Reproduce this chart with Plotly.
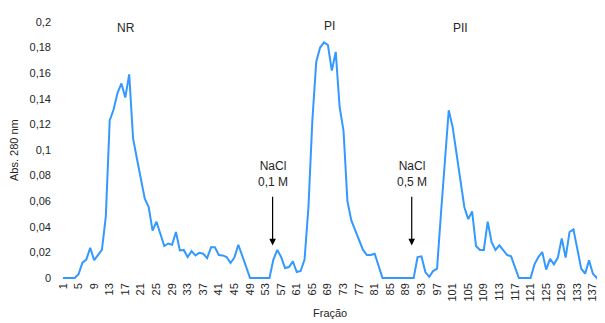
import plotly.graph_objects as go

fractions = list(range(1, 141))
absorbance = [
    0, 0, 0, 0, 0.003, 0.012, 0.0144, 0.0237, 0.014, 0.018,          # 1-10
    0.022, 0.048, 0.123, 0.1316, 0.1445, 0.152, 0.141, 0.159, 0.109, 0.093,  # 11-20
    0.078, 0.062, 0.0555, 0.037, 0.044, 0.035, 0.025, 0.027, 0.026, 0.036,  # 21-30
    0.0216, 0.022, 0.0164, 0.021, 0.0177, 0.0197, 0.019, 0.0156, 0.024, 0.024,  # 31-40
    0.018, 0.0177, 0.0164, 0.0117, 0.016, 0.026, 0.018, 0.009, 0, 0,  # 41-50
    0, 0, 0, 0, 0.0144, 0.022, 0.0164, 0.0078, 0.0086, 0.013,  # 51-60
    0.0047, 0.0055, 0.0144, 0.0555, 0.123, 0.169, 0.180, 0.184, 0.182, 0.162,  # 61-70
    0.1766, 0.1336, 0.115, 0.060, 0.045, 0.037, 0.029, 0.022, 0.018, 0.018,  # 71-80
    0.019, 0.0086, 0, 0, 0, 0, 0, 0, 0, 0,  # 81-90
    0, 0.0164, 0.017, 0.0047, 0.001, 0.0055, 0.0073, 0.05, 0.09, 0.131,  # 91-100
    0.118, 0.097, 0.076, 0.0555, 0.046, 0.052, 0.025, 0.022, 0.022, 0.044,  # 101-110
    0.028, 0.022, 0.0255, 0.022, 0.018, 0.017, 0.0086, 0, 0, 0,  # 111-120
    0, 0.0107, 0.0164, 0.0203, 0.0066, 0.015, 0.0107, 0.016, 0.031, 0.016,  # 121-130
    0.036, 0.038, 0.022, 0.0073, 0.0034, 0.0138, 0.0034, 0, 0.007, 0.001,  # 131-140
]

x_tick_vals = list(range(1, 138, 4))
y_tick_vals = [0, 0.02, 0.04, 0.06, 0.08, 0.1, 0.12, 0.14, 0.16, 0.18, 0.2]
y_tick_text = ["0", "0,02", "0,04", "0,06", "0,08", "0,1", "0,12", "0,14", "0,16", "0,18", "0,2"]

peak_labels = ["NR", "PI", "PII"]
peak_x = [17.1, 69.5, 102.9]
peak_y = [0.195, 0.197, 0.195]

salt_labels = ["NaCl<br>0,1 M", "NaCl<br>0,5 M"]
salt_x = [54.8, 90.5]

FONT = "Liberation Sans, Arial, sans-serif"
TXT = "#262626"
# page body has an 8px default margin, so the figure is 8px smaller each way
OFF = 8
W, H = 605 - OFF, 323 - OFF
ML, MR, MT, MB = 53, 0, 12, 43

fig = go.Figure()
fig.add_trace(go.Scatter(
    x=fractions, y=absorbance, mode="lines",
    line=dict(color="#3399FF", width=2), showlegend=False,
))

annotations = []
for t, xv, yv in zip(peak_labels, peak_x, peak_y):
    annotations.append(dict(x=xv, y=yv, xref="x", yref="y", text=t, showarrow=False,
                            font=dict(family=FONT, size=12, color=TXT)))
for t, xv in zip(salt_labels, salt_x):
    annotations.append(dict(x=xv, y=0.0816, xref="x", yref="y", text=t, showarrow=False,
                            font=dict(family=FONT, size=12, color=TXT)))
    annotations.append(dict(x=xv, y=0.0255, xref="x", yref="y", ax=xv, ay=0.0646,
                            axref="x", ayref="y", text="", showarrow=True,
                            arrowhead=2, arrowsize=1.1, arrowwidth=1.2, arrowcolor="#000"))
pw = W - ML - MR
ph = H - MT - MB
annotations.append(dict(x=(14 - OFF - ML) / pw, y=(H - MB - (150 - OFF)) / ph,
                        xref="paper", yref="paper",
                        text="Abs. 280 nm", textangle=-90, showarrow=False,
                        xanchor="center", yanchor="middle",
                        font=dict(family=FONT, size=11, color=TXT)))
annotations.append(dict(x=(330 - OFF - ML) / pw, y=-((313 - OFF) - (H - MB)) / ph,
                        xref="paper", yref="paper",
                        text="Fração", showarrow=False, xanchor="center", yanchor="middle",
                        font=dict(family=FONT, size=11, color=TXT)))

fig.update_layout(
    width=W, height=H,
    margin=dict(l=ML, r=MR, t=MT, b=MB, autoexpand=False),
    paper_bgcolor="white", plot_bgcolor="white",
    font=dict(family=FONT, size=11, color=TXT),
    annotations=annotations,
    xaxis=dict(range=[0.5, 140.1], tickmode="array", tickvals=x_tick_vals,
               tickangle=-90, showgrid=False, zeroline=False, showline=False,
               ticks="", automargin=False, tickfont=dict(family=FONT, size=11, color=TXT)),
    yaxis=dict(range=[-0.0015, 0.2015], tickmode="array", tickvals=y_tick_vals,
               ticktext=y_tick_text, showgrid=False, zeroline=False, showline=False,
               ticks="", automargin=False, ticklabelstandoff=9,
               tickfont=dict(family=FONT, size=11, color=TXT)),
)

fig.write_html("out.html")
